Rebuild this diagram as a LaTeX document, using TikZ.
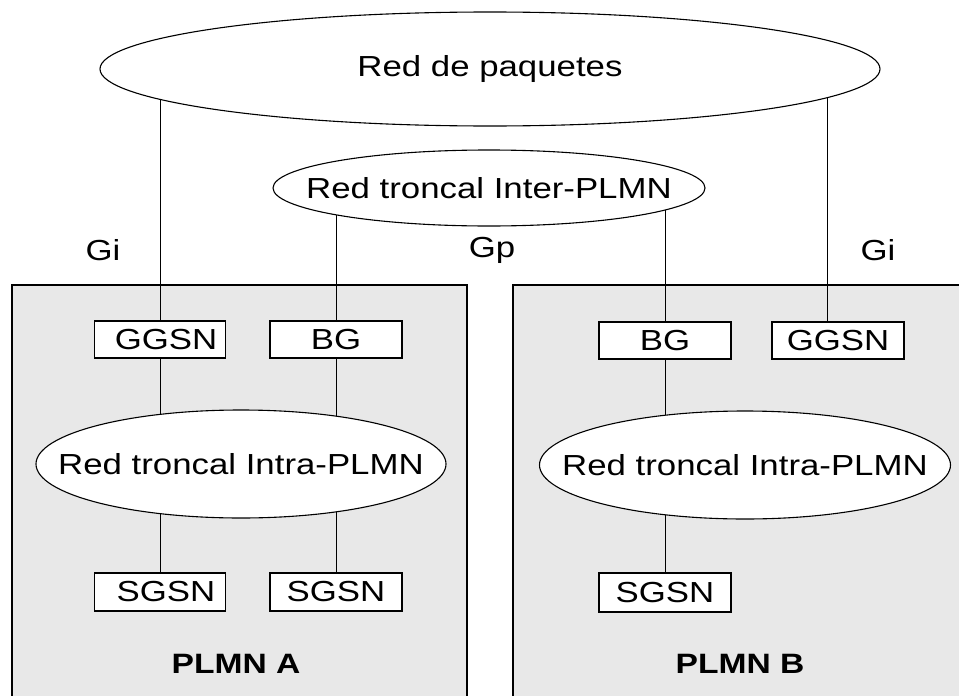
\documentclass[tikz,border=0pt]{standalone}
\usepackage{fontspec}
\setmainfont[FakeStretch=1.2]{Liberation Sans}
\usetikzlibrary{shapes.geometric}
\pgfdeclarelayer{back}
\pgfdeclarelayer{edges}
\pgfsetlayers{back,edges,main}
\begin{document}
\begin{tikzpicture}[x=1pt,y=-1pt,
  every node/.style={font=\fontsize{29}{34}\selectfont},
  netell/.style={ellipse, draw, line width=1.1pt, fill=white, inner sep=0pt},
  netbox/.style={rectangle, draw, line width=1.4pt, fill=white, inner sep=0pt},
  linkline/.style={line width=0.8pt},
  plmnfill/.style={fill=black!9},
  plmnline/.style={line width=1.4pt},
  plmnlabel/.style={font=\fontsize{28}{32}\selectfont\bfseries}]
\useasboundingbox (0,0) rectangle (959,696);

% ellipses
\node[netell, minimum width=780pt, minimum height=114pt] (big) at (490,69) {\makebox[0pt]{Red de paquetes}};
\node[netell, minimum width=432pt, minimum height=76pt] (inter) at (489,188) {\makebox[0pt]{Red troncal Inter-PLMN}};
\node[netell, minimum width=410pt, minimum height=108pt] (intraA) at (241,464) {\makebox[0pt]{Red troncal Intra-PLMN}};
\node[netell, minimum width=411pt, minimum height=108pt] (intraB) at (745,465) {\makebox[0pt]{Red troncal Intra-PLMN}};

% boxes PLMN A
\node[netbox, minimum width=131pt, minimum height=37pt] (ggsnA) at (160,339.5) {\makebox[0pt]{\hspace*{12pt}GGSN}};
\node[netbox, minimum width=132pt, minimum height=37pt] (bgA) at (336,339.5) {BG};
\node[netbox, minimum width=131pt, minimum height=38pt] (sgsnA1) at (160,592) {\makebox[0pt]{\hspace*{12pt}SGSN}};
\node[netbox, minimum width=132pt, minimum height=38pt] (sgsnA2) at (336,592) {SGSN};
% boxes PLMN B
\node[netbox, minimum width=132pt, minimum height=37pt] (bgB) at (665,340.5) {BG};
\node[netbox, minimum width=132pt, minimum height=37pt] (ggsnB) at (838,340.5) {GGSN};
\node[netbox, minimum width=132pt, minimum height=39pt] (sgsnB) at (665,592.5) {SGSN};

% labels
\node (giAlbl) at (103,250) {Gi};
\node (gplbl) at (492,250) {Gp};
\node (giBlbl) at (878,250) {Gi};
\node[plmnlabel] (plmnA) at (236,664) {PLMN A};
\node[plmnlabel] (plmnB) at (740,664) {PLMN B};

% connectors
\coordinate (giBtop) at ([xshift=-11pt]ggsnB.north);
\begin{pgfonlayer}{edges}
\draw[linkline] (ggsnA.north) -- (ggsnA.north |- big.center);
\draw[linkline] (bgA.north) -- (bgA.north |- inter.center);
\draw[linkline] (ggsnA.south) -- (ggsnA.south |- intraA.center);
\draw[linkline] (bgA.south) -- (bgA.south |- intraA.center);
\draw[linkline] (sgsnA1.north) -- (sgsnA1.north |- intraA.center);
\draw[linkline] (sgsnA2.north) -- (sgsnA2.north |- intraA.center);
\draw[linkline] (bgB.north) -- (bgB.north |- inter.center);
\draw[linkline] (bgB.south) -- (bgB.south |- intraB.center);
\draw[linkline] (sgsnB.north) -- (sgsnB.north |- intraB.center);
\draw[linkline] (giBtop) -- (giBtop |- big.center);
\end{pgfonlayer}

% PLMN regions
\begin{pgfonlayer}{back}
\fill[plmnfill] (12,285) rectangle (467,696);
\draw[plmnline] (12,696) -- (12,285) -- (467,285) -- (467,696);
\fill[plmnfill] (513,285) rectangle (959,696);
\draw[plmnline] (513,696) -- (513,285) -- (959,285);
\end{pgfonlayer}
\end{tikzpicture}
\end{document}
